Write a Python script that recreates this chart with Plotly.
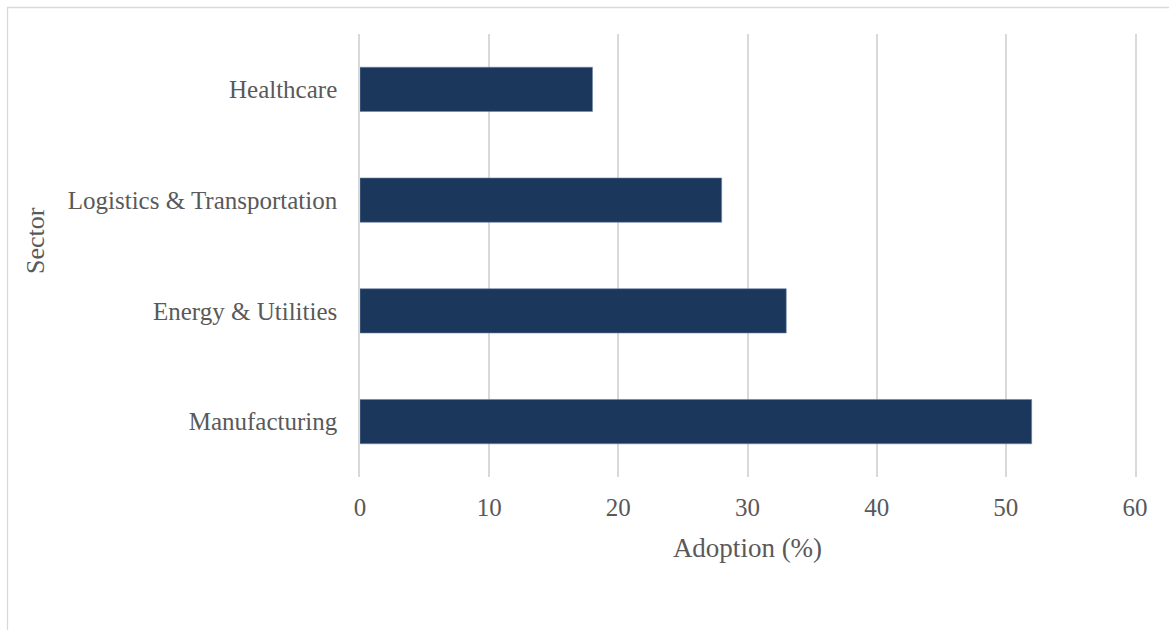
import plotly.graph_objects as go

# Adoption by sector (bottom to top)
sectors = ["Manufacturing", "Energy & Utilities", "Logistics & Transportation", "Healthcare"]
adoption = [52, 33, 28, 18]
x_ticks = [0, 10, 20, 30, 40, 50, 60]

W, H = 1169, 630
L, R, T, B = 360, 34, 34, 153
plot_w = W - L - R
plot_h = H - T - B

text_color = "#595959"
grid_color = "#D9D9D9"
font_family = "Liberation Serif, Times New Roman, serif"


def px_to_paper_x(px):
    return (px - L) / plot_w


def px_to_paper_y(py):
    return (H - B - py) / plot_h


fig = go.Figure(
    go.Bar(
        x=adoption,
        y=sectors,
        orientation="h",
        width=0.4,
        marker=dict(color="#1B375C", line=dict(color="#6E86A6", width=0.6)),
        hoverinfo="x+y",
    )
)

# outer chart frame (left and top edges visible)
fig.add_shape(
    type="rect",
    xref="paper", yref="paper",
    x0=px_to_paper_x(7.5), x1=px_to_paper_x(W + 20),
    y0=px_to_paper_y(H + 20), y1=px_to_paper_y(7.5),
    line=dict(color=grid_color, width=1.3),
    fillcolor="rgba(0,0,0,0)",
    layer="below",
)

# vertical axis title
fig.add_annotation(
    text="Sector",
    xref="paper", yref="paper",
    x=px_to_paper_x(35), y=px_to_paper_y(241),
    xanchor="center", yanchor="middle",
    textangle=-90,
    showarrow=False,
    font=dict(size=26, color=text_color, family=font_family),
)

fig.update_layout(
    width=W,
    height=H,
    margin=dict(l=L, r=R, t=T, b=B),
    paper_bgcolor="white",
    plot_bgcolor="white",
    showlegend=False,
    bargap=0.6,
    font=dict(family=font_family, color=text_color, size=25),
    xaxis=dict(
        range=[0, 60],
        tickvals=x_ticks,
        ticktext=[str(v) for v in x_ticks],
        showgrid=True,
        gridcolor=grid_color,
        gridwidth=1.5,
        zeroline=False,
        showline=False,
        ticks="outside",
        ticklen=8,
        tickcolor="rgba(0,0,0,0)",
        tickfont=dict(size=25, color=text_color),
        title=dict(text="Adoption (%)", font=dict(size=27, color=text_color), standoff=18),
    ),
    yaxis=dict(
        categoryorder="array",
        categoryarray=sectors,
        showgrid=False,
        zeroline=False,
        showline=True,
        mirror=True,
        linecolor=grid_color,
        linewidth=1.5,
        ticks="outside",
        ticklen=16,
        tickcolor="rgba(0,0,0,0)",
        tickfont=dict(size=25, color=text_color),
    ),
)

fig.write_html("out.html")
